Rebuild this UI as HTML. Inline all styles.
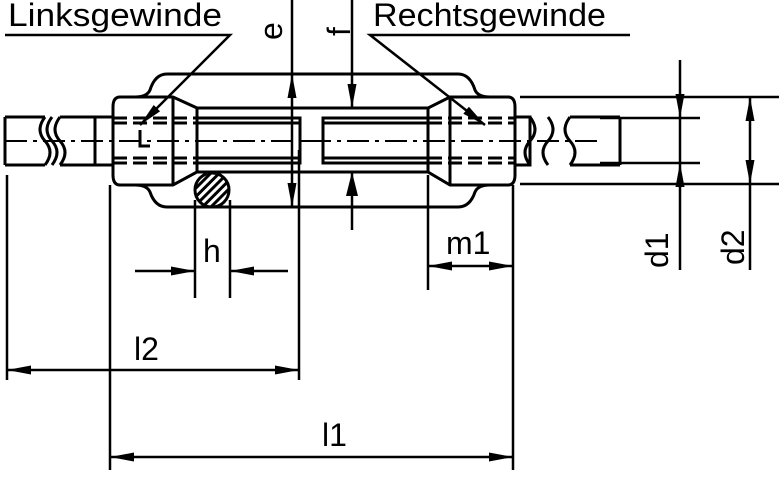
<!DOCTYPE html>
<html><head><style>body{margin:0;background:#fff}svg{display:block}text{font-family:"Liberation Sans",sans-serif;font-size:32px;fill:#000}</style></head><body>
<svg width="779" height="481" viewBox="0 0 779 481" xmlns="http://www.w3.org/2000/svg">
<defs><marker id="a" viewBox="0 0 24 9" refX="24" refY="4.5" markerWidth="24" markerHeight="9" markerUnits="userSpaceOnUse" orient="auto-start-reverse"><path d="M0,0L24,4.5L0,9z" fill="#000"/></marker>
<marker id="b" viewBox="0 0 24 12" refX="24" refY="6" markerWidth="24" markerHeight="12" markerUnits="userSpaceOnUse" orient="auto-start-reverse"><path d="M0,0L24,6L0,12z" fill="#000"/></marker>
<pattern id="h" width="6" height="6" patternUnits="userSpaceOnUse" patternTransform="rotate(45)"><rect width="3" height="6" fill="#000"/></pattern></defs>
<g stroke="#000" fill="none" stroke-width="3">
<path d="M167,74H458Q470,74 475,90Q478,97 490,97M167,74Q155,74 150,90Q147,97 135,97"/>
<path d="M167,207H458Q470,207 475,192Q478,185 490,185M167,207Q155,207 150,192Q147,185 135,185"/>
<path d="M120,97H173L197,108V172L173,185H120Q113,185 113,175V107Q113,97 120,97Z"/>
<path d="M173,97V185"/>
<path d="M508,97H450L428,108V172L450,185H508Q515,185 515,175V107Q515,97 508,97Z"/>
<path d="M450,97V185"/>
<path d="M197,108H428M197,172H428M428,108V172"/>
<path d="M197,118H300V163H197M197,123H300M197,158H300"/>
<path d="M428,118H323V163H428M428,123H323M428,158H323"/>
<path d="M300,141H323" stroke-width="2"/>
<path d="M5,141H600" stroke-width="2" stroke-dasharray="22,6,4,6"/>
<path d="M113,118H197M113,123H197M113,158H197M113,163H197M428,118H515M428,123H515M428,158H515M428,163H515" stroke-dasharray="14,6"/>
<path d="M140,130V146H150"/>
<path d="M5,117H45M5,165H45M5,117V165"/>
<path d="M45,117Q35,130 45,141Q55,152 45,165M52,117Q42,130 52,141Q62,152 52,165"/>
<path d="M60,117Q50,130 60,141Q70,152 60,165M60,117H113M60,165H113M95,117V165"/>
<path d="M515,117H530V165H515M530,117Q540,130 530,141Q520,152 530,165M548,117Q558,130 548,141Q538,152 548,165M570,117H620M570,165H620M620,117V165M570,117Q560,130 570,141Q580,152 570,165"/>
</g>
<circle cx="212" cy="190" r="17" fill="url(#h)" stroke="#000" stroke-width="3"/>
<g stroke="#000" stroke-width="2.5" fill="none">
<path d="M5,35H230L140,125" marker-end="url(#a)"/>
<path d="M630,35H370L485,125" marker-end="url(#a)"/>
<path d="M292,0V74"/><path d="M292,140V74" marker-end="url(#a)"/><path d="M292,140V207" marker-end="url(#a)"/>
<path d="M352,0V108" marker-end="url(#a)"/><path d="M352,230V172" marker-end="url(#b)"/>
<path d="M7,175V380M110,185V470M299,150V380M513,185V470M195,200V298M230,200V298M428,175V290"/>
<path d="M520,97H779M520,184H779M600,118H700M600,163H700"/>
<path d="M680,60V118" marker-end="url(#a)"/><path d="M680,270V163" marker-end="url(#a)"/><path d="M680,118V163"/>
<path d="M750,97V184" marker-start="url(#a)" marker-end="url(#a)"/><path d="M750,184V270"/>
<path d="M135,271H195" marker-end="url(#a)"/><path d="M288,271H230" marker-end="url(#a)"/>
<path d="M428,266H513" marker-start="url(#a)" marker-end="url(#a)"/>
<path d="M7,370H299" marker-start="url(#a)" marker-end="url(#a)"/>
<path d="M110,457H513" marker-start="url(#a)" marker-end="url(#a)"/>
</g>
<text x="8" y="26" textLength="214" lengthAdjust="spacingAndGlyphs">Linksgewinde</text>
<text x="373" y="26" textLength="233" lengthAdjust="spacingAndGlyphs">Rechtsgewinde</text>
<text transform="translate(282,40) rotate(-90)">e</text>
<text transform="translate(350,36) rotate(-90)">f</text>
<text x="203" y="262">h</text>
<text x="446" y="254">m1</text>
<text x="134" y="360">l2</text>
<text x="322" y="446">l1</text>
<text transform="translate(668,268) rotate(-90)">d1</text>
<text transform="translate(744,265) rotate(-90)">d2</text>
</svg>
</body></html>
